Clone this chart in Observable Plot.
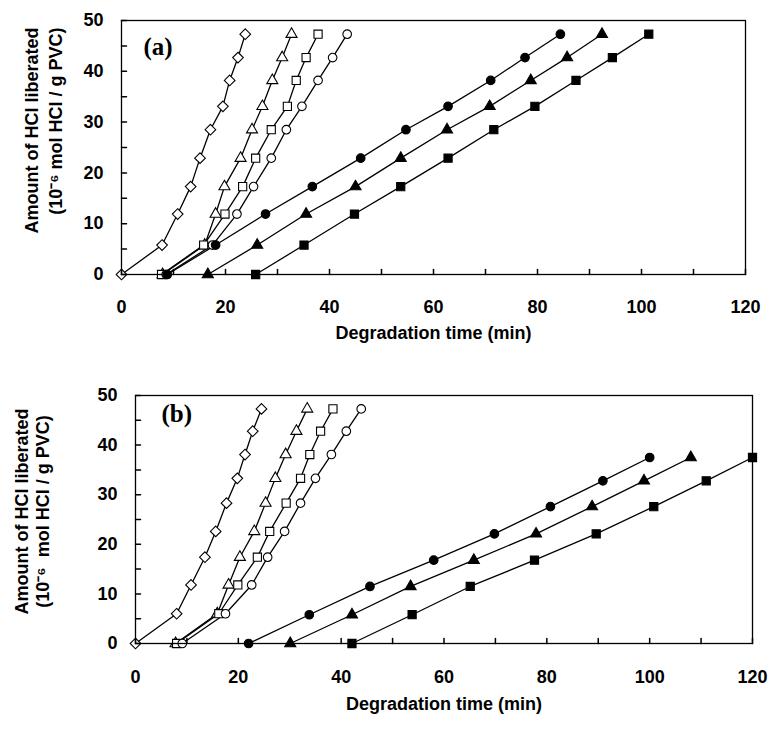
<!DOCTYPE html>
<html><head><meta charset="utf-8">
<script src="https://cdn.jsdelivr.net/npm/d3@7"></script>
<script src="https://cdn.jsdelivr.net/npm/@observablehq/plot@0.6"></script>
<style>
html,body{margin:0;padding:0;background:#fff;overflow:hidden}
#chart svg{display:block}
</style></head><body><div id="chart"></div>
<script>
// ---- texts & ticks ----
const xLabel = "Degradation time (min)";
const yLabel1 = "Amount of HCl liberated";
const yLabel2 = "(10⁻⁶ mol HCl / g PVC)";
const panelTags = ["(a)", "(b)"];
const xTickLabels = [0, 20, 40, 60, 80, 100, 120];
const yTickLabels = [0, 10, 20, 30, 40, 50];
const xMinorTicks = [0, 10, 20, 30, 40, 50, 60, 70, 80, 90, 100, 110, 120];
const yMinorTicks = [0, 5, 10, 15, 20, 25, 30, 35, 40, 45, 50];

// ---- series ----
const seriesKeys = ["openDiamond", "openTriangle", "openSquare", "openCircle", "filledCircle", "filledTriangle", "filledSquare"];

// panel (a): HCl levels (same for all series)
const aLevels = [0, 5.8, 11.9, 17.3, 22.9, 28.5, 33.1, 38.2, 42.7, 47.3];
const aOpenDiamond   = [0, 7.8, 10.8, 13.3, 15.1, 17.1, 19.5, 20.8, 22.4, 23.8];
const aOpenTriangle  = [7.9, 16.0, 18.1, 19.8, 22.9, 25.1, 27.1, 29.0, 30.9, 32.7];
const aOpenSquare    = [7.7, 15.8, 19.9, 23.3, 25.8, 28.8, 31.9, 33.6, 35.5, 37.8];
const aOpenCircle    = [8.6, 17.5, 22.2, 25.4, 28.8, 31.7, 34.7, 37.8, 40.6, 43.4];
const aFilledCircle  = [8.8, 18.1, 27.7, 36.7, 46.0, 54.7, 62.8, 71.0, 77.6, 84.4];
const aFilledTriangle= [16.6, 26.1, 35.5, 45.0, 53.7, 62.6, 70.8, 78.7, 85.7, 92.4];
const aFilledSquare  = [25.8, 35.1, 44.8, 53.7, 62.8, 71.6, 79.5, 87.4, 94.4, 101.4];

// panel (b)
const bLevelsOpen   = [0, 6.0, 11.8, 17.4, 22.6, 28.3, 33.3, 38.1, 42.8, 47.3];
const bLevelsFilled = [0, 5.8, 11.5, 16.8, 22.1, 27.6, 32.8, 37.5];
const bOpenDiamond   = [0, 8.0, 10.8, 13.5, 15.6, 17.7, 19.8, 21.3, 22.8, 24.5];
const bOpenTriangle  = [7.8, 15.9, 18.1, 20.3, 23.1, 25.3, 27.2, 29.2, 31.3, 33.4];
const bOpenSquare    = [8.0, 16.2, 19.9, 23.7, 26.1, 29.3, 32.1, 33.9, 36.0, 38.4];
const bOpenCircle    = [9.1, 17.5, 22.6, 25.7, 29.0, 32.1, 35.0, 38.1, 41.0, 43.9];
const bFilledCircle  = [22.0, 33.8, 45.6, 58.0, 69.8, 80.7, 90.9, 100.0];
const bFilledTriangle= [30.1, 42.1, 53.5, 65.8, 77.9, 88.8, 98.9, 108.0];
const bFilledSquare  = [42.1, 53.8, 65.1, 77.6, 89.6, 100.8, 111.0, 120.0];

// ---- styles ----
const markerStyle = {
  openDiamond:   {symbol: "diamond2", fill: "white", r: 4.8},
  openTriangle:  {symbol: "triangle", fill: "white", r: 4.1},
  openSquare:    {symbol: "square",   fill: "white", r: 4.6},
  openCircle:    {symbol: "circle",   fill: "white", r: 4.3},
  filledCircle:  {symbol: "circle",   fill: "black", r: 4.3},
  filledTriangle:{symbol: "triangle", fill: "black", r: 4.1},
  filledSquare:  {symbol: "square",   fill: "black", r: 4.6}
};

function buildRows(timesList, levelsList) {
  return seriesKeys.flatMap((key, s) =>
    timesList[s].map((t, i) => ({key, t, h: levelsList[s][i]})));
}
const dataA = buildRows(
  [aOpenDiamond, aOpenTriangle, aOpenSquare, aOpenCircle, aFilledCircle, aFilledTriangle, aFilledSquare],
  [aLevels, aLevels, aLevels, aLevels, aLevels, aLevels, aLevels]);
const dataB = buildRows(
  [bOpenDiamond, bOpenTriangle, bOpenSquare, bOpenCircle, bFilledCircle, bFilledTriangle, bFilledSquare],
  [bLevelsOpen, bLevelsOpen, bLevelsOpen, bLevelsOpen, bLevelsFilled, bLevelsFilled, bLevelsFilled]);

const tickShape = {draw(ctx, l) { ctx.moveTo(0, 0); ctx.lineTo(0, -l); }};
const FONT = "'Liberation Sans', Arial, sans-serif";
const FS = 18;

function panel(o) {
  const marks = [
    Plot.line(o.data, {x: "t", y: "h", z: "key", stroke: "black", strokeWidth: 1.3}),
    ...seriesKeys.map(k => Plot.dot(o.data.filter(d => d.key === k), {
      x: "t", y: "h", symbol: () => markerStyle[k].symbol, fill: markerStyle[k].fill,
      r: markerStyle[k].r, stroke: "black", strokeWidth: 1.1
    })),
    Plot.frame({stroke: "black", strokeWidth: 1.3}),
    Plot.vector(xMinorTicks, {x: d => d, y: 0, length: 5, rotate: 0, anchor: "start", shape: tickShape, stroke: "black"}),
    Plot.vector(yMinorTicks, {x: 0, y: d => d, length: 5, rotate: 90, anchor: "start", shape: tickShape, stroke: "black"}),
    Plot.axisX(xTickLabels, {tickSize: 0, tickPadding: o.xPad, label: null, fontSize: FS, fontWeight: "bold"}),
    Plot.axisY(yTickLabels, {tickSize: 0, tickPadding: 18, label: null, fontSize: FS, fontWeight: "bold"}),
    Plot.text([xLabel], {text: d => d, frameAnchor: "bottom", dy: o.titleDy, fontSize: FS, fontWeight: "bold"}),
    Plot.text([yLabel1], {text: d => d, frameAnchor: o.yAnchor, dx: o.y1dx, dy: o.ydy, rotate: -90, textAnchor: o.yTextAnchor, fontSize: FS, fontWeight: "bold"}),
    Plot.text([o.yLabel2], {text: d => d, frameAnchor: o.yAnchor, dx: o.y2dx, dy: o.ydy, rotate: -90, textAnchor: o.yTextAnchor, fontSize: FS, fontWeight: "bold"}),
    Plot.text([o.tag], {text: d => d, frameAnchor: "top-left", dx: o.tagDx, dy: o.tagDy, textAnchor: "start", lineAnchor: "top",
      fontFamily: "'Liberation Serif', 'Times New Roman', serif", fontWeight: "bold", fontSize: 25})
  ];
  return Plot.plot({
    width: 771, height: o.height,
    marginLeft: o.mL, marginRight: o.mR, marginTop: o.mT, marginBottom: o.mB,
    x: {domain: [0, 120]}, y: {domain: [0, 50]},
    style: {fontFamily: FONT, color: "black", background: "white", overflow: "visible"},
    marks
  });
}

const chart = document.getElementById("chart");
chart.appendChild(panel({
  data: dataA, height: 360, mL: 121, mR: 26, mT: 20, mB: 86,
  xPad: 26, titleDy: 64, yAnchor: "top-left", y1dx: -96, y2dx: -72, ydy: 7, yTextAnchor: "end",
  yLabel2: yLabel2, tag: panelTags[0], tagDx: 22, tagDy: 17
}));
chart.appendChild(panel({
  data: dataB, height: 369, mL: 135, mR: 19, mT: 35, mB: 86,
  xPad: 27, titleDy: 66, yAnchor: "left", y1dx: -113, y2dx: -92, ydy: -8, yTextAnchor: "middle",
  yLabel2: "(10⁻⁶  mol HCl / g PVC)", tag: panelTags[1], tagDx: 26, tagDy: 9
}));
</script></body></html>
